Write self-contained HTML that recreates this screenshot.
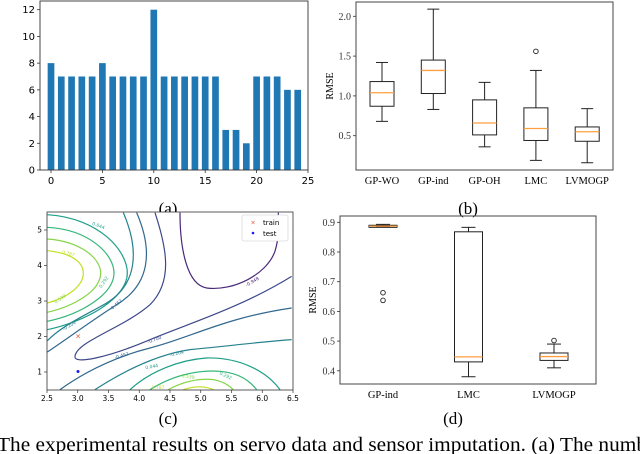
<!DOCTYPE html>
<html><head><meta charset="utf-8"><style>
html,body{margin:0;padding:0;background:#fff;width:640px;height:454px;overflow:hidden}
svg{display:block}
.sans{font-family:"DejaVu Sans","Liberation Sans",sans-serif}
.serif{font-family:"Liberation Serif","DejaVu Serif",serif}
</style></head><body>
<svg id="fig" width="640" height="454" viewBox="0 0 640 454" xmlns="http://www.w3.org/2000/svg">
<g id="pa"></g>
<text class="serif" x="168" y="214" font-size="17" text-anchor="middle">(a)</text>
<g id="pb"></g>
<text class="serif" x="468" y="214" font-size="17" text-anchor="middle">(b)</text>
<g id="pc">
<rect x="47" y="212" width="246" height="178" fill="#fff" stroke="none"/>
<g transform="translate(40,208) scale(0.3333)" fill="none" stroke-width="3.6">
<path d="M22,128 C90,135 130,160 130,195 C130,235 80,270 22,285" stroke="#c2df23"/>
<path d="M22,93 C120,100 182,150 182,195 C182,250 100,295 22,313" stroke="#86d549"/>
<path d="M22,58 C150,65 222,140 222,195 C222,260 120,320 22,340" stroke="#35b779"/>
<path d="M22,20 C180,30 262,130 262,195 C262,270 140,340 22,365" stroke="#1f9e89"/>
<path d="M250,14 C300,130 290,230 200,285 C140,320 70,350 22,398" stroke="#26828e"/>
<path d="M290,14 C340,130 330,230 230,290 C160,335 70,400 22,432" stroke="#31688e"/>
<path d="M345,14 C380,120 400,220 330,290 C250,360 110,400 105,445 C100,470 200,450 330,395 C450,345 600,300 755,205" stroke="#3e4989"/>
<path d="M420,14 C420,120 440,230 500,240 C580,250 680,200 705,130 C720,80 715,40 715,14" stroke="#482878"/>
<path d="M60,545 C150,480 250,440 330,420 C450,390 550,330 755,300" stroke="#31688e"/>
<path d="M165,545 C250,490 350,440 450,425 C600,410 680,400 755,395" stroke="#26828e"/>
<path d="M270,545 C330,490 420,455 500,450 C600,448 680,490 720,545" stroke="#1f9e89"/>
<path d="M330,545 C400,500 480,485 540,490 C600,495 630,520 650,545" stroke="#35b779"/>
<path d="M385,545 C430,520 480,510 520,515 C550,520 570,535 580,545" stroke="#86d549"/>
<path d="M430,545 C460,535 490,532 520,545" stroke="#c2df23"/>
</g>
<g class="sans" font-size="4.5" text-anchor="middle">
<text x="98" y="227" fill="#1f9e89" transform="rotate(20 98 227)">0.044</text>
<text x="68" y="255" fill="#c2df23" transform="rotate(15 68 255)">0.787</text>
<text x="105" y="283" fill="#35b779" transform="rotate(-55 105 283)">0.292</text>
<text x="61" y="300" fill="#86d549" transform="rotate(-35 61 300)">0.539</text>
<text x="70" y="327" fill="#26828e" transform="rotate(-30 70 327)">-0.204</text>
<text x="117" y="306" fill="#31688e" transform="rotate(-40 117 306)">-0.452</text>
<text x="155" y="341" fill="#3e4989" transform="rotate(-20 155 341)">-0.700</text>
<text x="253" y="283" fill="#482878" transform="rotate(-30 253 283)">-0.948</text>
<text x="122" y="357" fill="#31688e" transform="rotate(-15 122 357)">-0.452</text>
<text x="177" y="355" fill="#26828e" transform="rotate(-12 177 355)">-0.204</text>
<text x="152" y="368" fill="#1f9e89" transform="rotate(-10 152 368)">0.044</text>
<text x="225" y="377" fill="#35b779" transform="rotate(25 225 377)">0.292</text>
<text x="188" y="378" fill="#86d549" transform="rotate(8 188 378)">0.539</text>
<text x="158" y="389" fill="#c2df23">0.787</text>
</g>
<rect x="47" y="212" width="246" height="178" fill="none" stroke="#333" stroke-width="0.8"/>
<g>
<rect x="242" y="215" width="46" height="26" fill="#fff" stroke="#ccc" stroke-width="0.6" rx="2"/>
<text x="253" y="224.5" font-size="6" fill="#e8452c" text-anchor="middle" class="sans">×</text>
<text class="sans" x="263" y="225" font-size="7">train</text>
<circle cx="253" cy="233" r="1.3" fill="#1a1aff"/>
<text class="sans" x="263" y="236" font-size="7">test</text>
</g>
<text x="78" y="338.5" font-size="7" fill="#e8452c" text-anchor="middle" class="sans">×</text>
<circle cx="78" cy="371.5" r="1.5" fill="#1a1aff"/>
<g id="pcticks"></g>
</g>
<text class="serif" x="168" y="424" font-size="17" text-anchor="middle">(c)</text>
<g id="pd"></g>
<text class="serif" x="453" y="424" font-size="17" text-anchor="middle">(d)</text>
<text class="serif" x="-3" y="451" font-size="20" textLength="650" lengthAdjust="spacingAndGlyphs">The experimental results on servo data and sensor imputation. (a) The numb</text>
</svg>
<script>
const NS="http://www.w3.org/2000/svg";
// Panel (a) data
const barCats=[0,1,2,3,4,5,6,7,8,9,10,11,12,13,14,15,16,17,18,19,20,21,22,23,24];
const barVals=[8,7,7,7,7,8,7,7,7,7,12,7,7,7,7,7,7,3,3,2,7,7,7,6,6];
const aXTicks=[0,5,10,15,20,25];
const aYTicks=[0,2,4,6,8,10,12];
// Panel (b) data
const bCats=["GP-WO","GP-ind","GP-OH","LMC","LVMOGP"];
const bWhiskLo=[0.68,0.83,0.36,0.19,0.16];
const bQ1=[0.87,1.03,0.51,0.44,0.43];
const bMed=[1.04,1.32,0.66,0.59,0.55];
const bQ3=[1.18,1.45,0.95,0.85,0.61];
const bWhiskHi=[1.42,2.09,1.17,1.32,0.84];
const bOutliers=[[],[],[],[1.56],[]];
const bYTicks=["0.5","1.0","1.5","2.0"];
// Panel (c) ticks
const cXTicks=["2.5","3.0","3.5","4.0","4.5","5.0","5.5","6.0","6.5"];
const cYTicks=[1,2,3,4,5];
// Panel (d) data
const dCats=["GP-ind","LMC","LVMOGP"];
const dWhiskLo=[0.885,0.38,0.41];
const dQ1=[0.883,0.43,0.435];
const dMed=[0.887,0.447,0.448];
const dQ3=[0.89,0.868,0.46];
const dWhiskHi=[0.893,0.883,0.49];
const dOutliers=[[0.663,0.637],[],[0.502]];
const dYTicks=["0.4","0.5","0.6","0.7","0.8","0.9"];

function mk(parent,tag,attrs,text){const e=document.createElementNS(NS,tag);for(const k in attrs)e.setAttribute(k,attrs[k]);if(text!==undefined)e.textContent=text;parent.appendChild(e);return e;}

// ---- Panel a
(function(){
 const g=document.getElementById('pa');
 const L=40,R=308,T=1,B=170;
 const xs=v=>51+v*(R-51)/25, ys=v=>B-v*(B-9.7)/12;
 for(let i=0;i<barCats.length;i++){
  const w=0.65*(R-51)/25;
  const r=mk(g,'rect',{x:xs(barCats[i])-w/2,y:ys(barVals[i]),width:w,height:B-ys(barVals[i]),fill:'#1f77b4'});
  
  
 }
 mk(g,'rect',{x:L,y:T,width:R-L,height:B-T,fill:'none',stroke:'#333','stroke-width':0.9});
 aXTicks.forEach(t=>{mk(g,'line',{x1:xs(t),x2:xs(t),y1:B,y2:B+3,stroke:'#333','stroke-width':0.8});
  const tx=mk(g,'text',{x:xs(t),y:B+14,'font-size':10,'text-anchor':'middle',class:'sans'},String(t));
  });
 aYTicks.forEach(t=>{mk(g,'line',{x1:L-3,x2:L,y1:ys(t),y2:ys(t),stroke:'#333','stroke-width':0.8});
  const tx=mk(g,'text',{x:L-5,y:ys(t)+3.5,'font-size':10,'text-anchor':'end',class:'sans'},String(t));
  });
})();

function boxPanel(g,box,ys,cats,cx,bw,lo,q1,med,q3,hi,outs,yticks){
 for(let i=0;i<cats.length;i++){
  const x=cx(i);
  const bg=mk(g,'g',{});
  
  
  const s={stroke:'#222','stroke-width':1,fill:'none'};
  mk(bg,'line',Object.assign({x1:x,x2:x,y1:ys(hi[i]),y2:ys(q3[i])},s));
  mk(bg,'line',Object.assign({x1:x,x2:x,y1:ys(q1[i]),y2:ys(lo[i])},s));
  mk(bg,'line',Object.assign({x1:x-bw/4,x2:x+bw/4,y1:ys(hi[i]),y2:ys(hi[i])},s));
  mk(bg,'line',Object.assign({x1:x-bw/4,x2:x+bw/4,y1:ys(lo[i]),y2:ys(lo[i])},s));
  mk(bg,'rect',Object.assign({x:x-bw/2,y:ys(q3[i]),width:bw,height:Math.max(0.5,ys(q1[i])-ys(q3[i]))},s));
  mk(bg,'line',{x1:x-bw/2,x2:x+bw/2,y1:ys(med[i]),y2:ys(med[i]),stroke:'#ff9f40','stroke-width':1.3});
  outs[i].forEach(o=>mk(bg,'circle',{cx:x,cy:ys(o),r:2.3,fill:'none',stroke:'#222','stroke-width':0.9}));
  const t=mk(g,'text',{x:x,y:box.B+14,'font-size':10.5,'text-anchor':'middle',class:'serif'},cats[i]);
  
 }
 mk(g,'rect',{x:box.L,y:box.T,width:box.R-box.L,height:box.B-box.T,fill:'none',stroke:'#444','stroke-width':1});
 yticks.forEach(t=>{const y=ys(parseFloat(t));
  mk(g,'line',{x1:box.L-3,x2:box.L,y1:y,y2:y,stroke:'#333','stroke-width':0.8});
  const tx=mk(g,'text',{x:box.L-5,y:y+3.5,'font-size':10,'text-anchor':'end',class:'serif',fill:'#333'},t);
  });
}
// ---- Panel b
(function(){
 const g=document.getElementById('pb');
 const box={L:356,R:613,T:2,B:170};
 const ys=v=>16.3+(2.0-v)*79.6;
 boxPanel(g,box,ys,bCats,i=>382+i*51.3,24,bWhiskLo,bQ1,bMed,bQ3,bWhiskHi,bOutliers,bYTicks);
 const t=mk(g,'text',{x:0,y:0,'font-size':10,'text-anchor':'middle',class:'serif',transform:'translate(333,86) rotate(-90)'},'RMSE');
 
})();
// ---- Panel c ticks
(function(){
 const g=document.getElementById('pcticks');
 const xs=v=>47+(v-2.5)*61.5, ys=v=>372-(v-1)*35.5;
 cXTicks.forEach(t=>{const x=xs(parseFloat(t));
  mk(g,'line',{x1:x,x2:x,y1:390,y2:393,stroke:'#333','stroke-width':0.7});
  const tx=mk(g,'text',{x:x,y:401,'font-size':7.5,'text-anchor':'middle',class:'sans'},t);
  });
 cYTicks.forEach(t=>{const y=ys(t);
  mk(g,'line',{x1:44,x2:47,y1:y,y2:y,stroke:'#333','stroke-width':0.7});
  const tx=mk(g,'text',{x:42,y:y+2.7,'font-size':7.5,'text-anchor':'end',class:'sans'},String(t));
  });
})();
// ---- Panel d
(function(){
 const g=document.getElementById('pd');
 const box={L:340,R:596,T:216,B:384};
 const ys=v=>222.3+(0.9-v)*297;
 boxPanel(g,box,ys,dCats,i=>383+i*85.5,28,dWhiskLo,dQ1,dMed,dQ3,dWhiskHi,dOutliers,dYTicks);
 const t=mk(g,'text',{x:0,y:0,'font-size':10,'text-anchor':'middle',class:'serif',transform:'translate(316,300) rotate(-90)'},'RMSE');
 
})();
</script>
</body></html>
